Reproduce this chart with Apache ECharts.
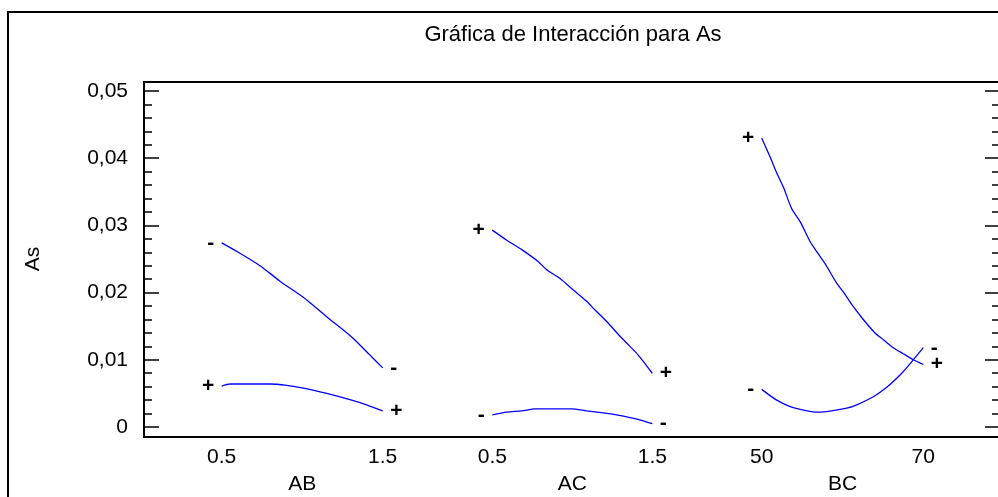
<!DOCTYPE html>
<html>
<head>
<meta charset="utf-8">
<script src="https://cdn.jsdelivr.net/npm/echarts@6/dist/echarts.min.js"></script>
<style>html,body{margin:0;padding:0;background:#fff;}#c{width:998px;height:497px;}</style>
</head>
<body>
<div id="c"></div>
<script>
// ---- data ----
const titleText = 'Gráfica de Interacción para As';
const yName = 'As';
const factorNames = ['AB', 'AC', 'BC'];
const factorRanges = [[0.5, 1.5], [0.5, 1.5], [50, 70]];

const abMinus = [[0.5,0.0274],[0.603,0.0260],[0.738,0.0240],[0.862,0.0217],[1.007,0.0193],[1.152,0.0164],[1.307,0.0134],[1.421,0.0107],[1.5,0.0088]];
const abPlus  = [[0.5,0.0061],[0.552,0.0064],[0.8,0.0064],[0.903,0.0062],[1.007,0.0058],[1.152,0.0050],[1.307,0.0040],[1.4,0.0033],[1.5,0.0024]];
const acPlus  = [[0.5,0.0293],[0.59,0.0278],[0.684,0.0264],[0.788,0.0246],[0.84,0.0234],[0.923,0.0221],[1.006,0.0204],[1.09,0.0187],[1.142,0.0174],[1.215,0.0157],[1.298,0.0135],[1.36,0.0120],[1.412,0.0107],[1.5,0.0080]];
const acMinus = [[0.5,0.0018],[0.59,0.0022],[0.684,0.0024],[0.767,0.0027],[0.996,0.0027],[1.09,0.0024],[1.193,0.0021],[1.277,0.0018],[1.36,0.0014],[1.433,0.0010],[1.5,0.0005]];
const bcPlus  = [[50,0.0430],[51.03,0.0402],[51.86,0.0378],[52.68,0.0357],[53.71,0.0325],[54.74,0.0306],[55.98,0.0276],[56.81,0.0261],[57.84,0.0243],[59.28,0.0214],[60.1,0.0201],[61.34,0.0179],[62.57,0.0160],[64.02,0.0140],[65.05,0.0130],[66.29,0.0118],[67.52,0.0109],[68.76,0.0100],[70,0.0093]];
const bcMinus = [[50,0.0056],[51.86,0.0040],[53.91,0.0029],[57.22,0.0022],[60.52,0.0028],[61.76,0.0033],[63.82,0.0045],[65.47,0.0059],[67.33,0.0080],[68.56,0.0097],[70,0.0118]];

const curves = [
  { panel: 0, sign: '-', data: abMinus },
  { panel: 0, sign: '+', data: abPlus },
  { panel: 1, sign: '+', data: acPlus },
  { panel: 1, sign: '-', data: acMinus },
  { panel: 2, sign: '+', data: bcPlus },
  { panel: 2, sign: '-', data: bcMinus }
];

const yMin = 0, yMax = 0.05, yStep = 0.01;

// ---- layout ----
const FONT = 'Liberation Sans, Arial, sans-serif';
const FS = 21;
const plotTop = 91, plotH = 336;
const panelLeft = [221.7, 492.3, 761.7];
const panelWidth = [161, 160, 161.6];

const grids = [];
const xAxes = [];
const yAxes = [];
for (let i = 0; i < 3; i++) {
  grids.push({ left: panelLeft[i], top: plotTop, width: panelWidth[i], height: plotH, outerBoundsMode: 'none', containLabel: false });
  const r = factorRanges[i];
  xAxes.push({
    type: 'value', gridIndex: i, min: r[0], max: r[1], interval: r[1] - r[0],
    axisLine: { show: false }, axisTick: { show: false }, splitLine: { show: false },
    axisLabel: { color: '#000', fontFamily: FONT, fontSize: FS, margin: 20,
      formatter: v => (r[1] < 10 ? v.toFixed(1) : String(v)) },
    name: factorNames[i], nameLocation: 'middle', nameGap: 47,
    nameTextStyle: { color: '#000', fontFamily: FONT, fontSize: FS }
  });
  yAxes.push({ type: 'value', gridIndex: i, min: yMin, max: yMax, show: false });
}
// frame grid with left/right y axes
grids.push({ left: 144, top: plotTop, width: 856, height: plotH, outerBoundsMode: 'none', containLabel: false });
xAxes.push({ type: 'value', gridIndex: 3, show: false, min: 0, max: 1 });
const frameY = (pos) => ({
  type: 'value', gridIndex: 3, position: pos, min: yMin, max: yMax, interval: yStep,
  axisLine: { show: false }, splitLine: { show: false },
  axisTick: { show: true, inside: true, length: 15, lineStyle: { color: '#000', width: 1.5 } },
  minorTick: { show: true, splitNumber: 5, length: 8, lineStyle: { color: '#000', width: 1.5 } },
  axisLabel: { show: pos === 'left', color: '#000', fontFamily: FONT, fontSize: FS, margin: 16,
    formatter: v => (v === 0 ? '0' : v.toFixed(2).replace('.', ',')) },
  name: pos === 'left' ? yName : '', nameLocation: 'middle', nameGap: 100,
  nameTextStyle: { color: '#000', fontFamily: FONT, fontSize: FS }
});
yAxes.push(frameY('left'));
yAxes.push(frameY('right'));

const series = curves.map(c => ({
  type: 'line', xAxisIndex: c.panel, yAxisIndex: c.panel,
  smooth: 0.25, symbol: 'circle', symbolSize: 1, showSymbol: true,
  itemStyle: { color: 'rgba(0,0,0,0)' },
  lineStyle: { color: '#0000ff', width: 1.3 },
  emphasis: { disabled: true },
  data: c.data.map((p, k) => {
    const last = k === c.data.length - 1;
    if (k === 0 || last) {
      return { value: p, label: { show: true, position: last ? 'right' : 'left', distance: 7,
        formatter: c.sign, color: '#000', fontFamily: FONT, fontSize: 21, fontWeight: 'bold' } };
    }
    return { value: p };
  })
}));

const chart = echarts.init(document.getElementById('c'), null, { renderer: 'canvas' });
chart.setOption({
  animation: false,
  backgroundColor: '#fff',
  title: { text: titleText, left: 573, top: 24, textAlign: 'center', padding: 0,
    textStyle: { color: '#000', fontFamily: FONT, fontSize: 22, fontWeight: 'normal' } },
  graphic: [
    { type: 'rect', shape: { x: 8, y: 12, width: 1000, height: 500 }, style: { fill: 'none', stroke: '#000', lineWidth: 2 }, silent: true },
    { type: 'rect', shape: { x: 144, y: 82, width: 856, height: 355 }, style: { fill: 'none', stroke: '#000', lineWidth: 2 }, silent: true }
  ],
  grid: grids,
  xAxis: xAxes,
  yAxis: yAxes,
  series: series
});
</script>
</body>
</html>
